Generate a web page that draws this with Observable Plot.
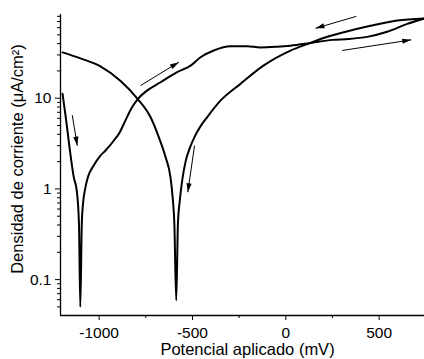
<!DOCTYPE html>
<html><head><meta charset="utf-8">
<script src="https://cdn.jsdelivr.net/npm/d3@7"></script>
<script src="https://cdn.jsdelivr.net/npm/@observablehq/plot@0.6"></script>
<style>body{margin:0;background:#fff}</style>
</head><body><div id="chart"></div><script>
// Forward scan (mV, µA/cm²)
const fwdX = [-1196,-1178,-1159,-1136,-1120,-1108,-1101,-1093,-1086,-1075,-1060,-1030,-993,-966,-921,-890,-868,-823,-793,-742,-671,-582,-510,-457,-386,-296,-207,-136,-46,25,128,250,336,436,543,650,745];
const fwdY = [11.2,6,2.9,1.35,0.96,0.41,0.05,0.41,0.7,1.0,1.35,1.8,2.33,2.65,3.42,4.2,5.2,8.0,9.8,12.2,15,19.4,22.9,28.3,33.6,37.4,37.4,36.3,37,38,40.5,44,45,47.5,54,66,76];
// Reverse scan
const revX = [745,597,454,311,186,128,25,-118,-243,-350,-421,-460,-490,-515,-537,-555,-568,-578,-587,-597,-606,-618,-644,-680,-725,-793,-885,-993,-1100,-1196];
const revY = [76,72,63,53.5,45,40.5,33.5,23,14.4,9.4,6.2,4.8,3.7,2.8,2.0,1.24,0.74,0.41,0.059,0.41,0.8,1.35,2.24,3.7,6.2,9.8,15.5,22.5,27.5,32];
// Arrows
const arX1 = [-1144,-778,-489,378,302];
const arY1 = [6.5,13.8,3.0,80,33.6];
const arX2 = [-1117,-573,-525,159,672];
const arY2 = [3.0,25,0.92,59,44];
// Ticks
const xMajor = [-1000,-500,0,500];
const xMinor = [-750,-250,250];
const yMajor = [0.1,1,10];
const yMinor = [0.05,0.06,0.07,0.08,0.09,0.2,0.3,0.4,0.5,0.6,0.7,0.8,0.9,2,3,4,5,6,7,8,9,20,30,40,50,60,70,80];
const xTitle = "Potencial aplicado (mV)";
const yTitle = "Densidad de corriente (μA/cm²)";

const fwd = d3.sort(fwdX.map((x,i)=>({x, y: fwdY[i]})), d=>d.x);
const rev = d3.sort(revX.map((x,i)=>({x, y: revY[i]})), d=>d.x);
const arrows = arX1.map((x1,i)=>({x1, y1: arY1[i], x2: arX2[i], y2: arY2[i]}));

const xDom = [-1207, 743], yDom = [0.0402, 83.8];
const font = "Liberation Sans, Arial, sans-serif";

const chart = Plot.plot({
  width: 424, height: 359,
  marginLeft: 60, marginRight: 0, marginTop: 14, marginBottom: 44,
  style: {fontFamily: font, fontSize: "15.5px", color: "black", background: "white", overflow: "visible"},
  x: {type: "linear", domain: xDom},
  y: {type: "log", domain: yDom},
  marks: [
    Plot.ruleX([xDom[0]], {stroke: "black", strokeWidth: 1.3}),
    Plot.ruleY([yDom[0]], {stroke: "black", strokeWidth: 1.3}),
    Plot.axisX({ticks: xMajor, tickSize: 5, tickPadding: 6, label: null, fontSize: 15.5, tickFormat: d => String(d)}),
    Plot.axisX({ticks: xMinor, tickSize: 3, tickFormat: () => "", label: null}),
    Plot.axisY({ticks: yMajor, tickSize: 5, tickPadding: 4, label: null, fontSize: 15.5, tickFormat: d => String(d)}),
    Plot.axisY({ticks: yMinor, tickSize: 3, tickFormat: () => "", label: null}),
    Plot.line(fwd, {x: "x", y: "y", stroke: "black", strokeWidth: 2, curve: "monotone-x", clip: true}),
    Plot.line(rev, {x: "x", y: "y", stroke: "black", strokeWidth: 2, curve: "monotone-x", clip: true}),
    Plot.link(arrows, {x1: "x1", y1: "y1", x2: "x2", y2: "y2", stroke: "black", strokeWidth: 1, markerEnd: "arrow"}),
    Plot.text([xTitle], {frameAnchor: "bottom", dy: 39, dx: 5, fontSize: 16.5, fill: "black"}),
    Plot.text([yTitle], {frameAnchor: "left", textAnchor: "middle", dx: -43, dy: -6, rotate: -90, fontSize: 16.5, fill: "black"})
  ]
});
chart.querySelectorAll("marker").forEach(m => {
  m.setAttribute("viewBox", "-10 -5 10 10");
  m.setAttribute("markerWidth", "10");
  m.setAttribute("markerHeight", "10");
  m.setAttribute("fill", "black");
  m.setAttribute("stroke", "none");
  m.innerHTML = '<path d="M-9,-2.6L0,0L-9,2.6Z"/>';
});
document.getElementById("chart").appendChild(chart);
</script></body></html>
